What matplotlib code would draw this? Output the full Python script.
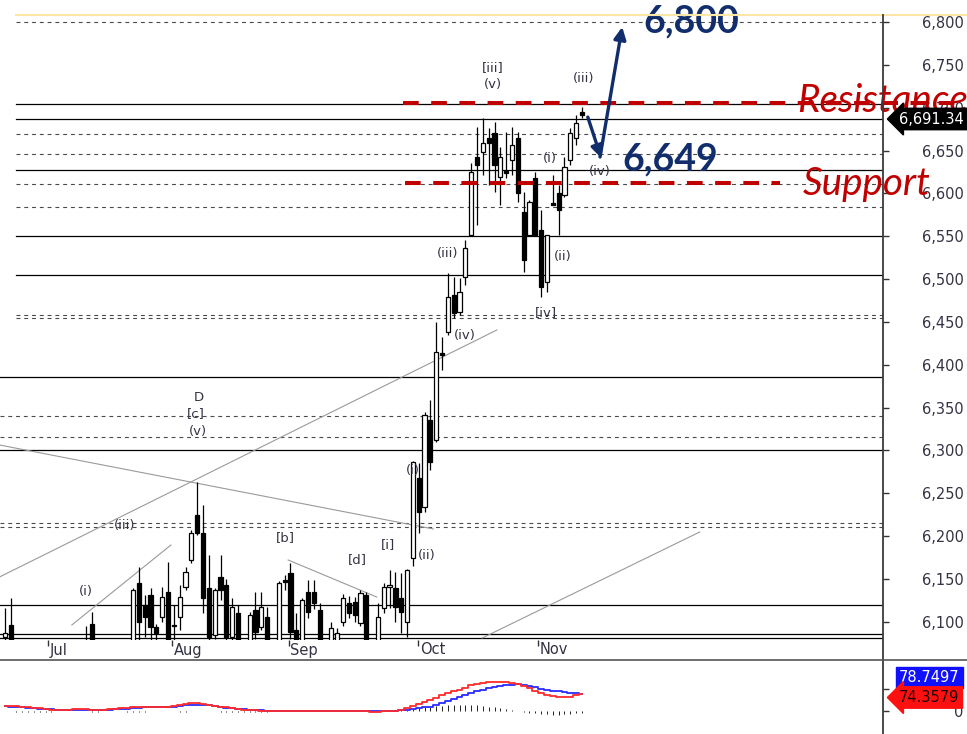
import matplotlib
matplotlib.use("Agg")
import matplotlib.pyplot as plt
from matplotlib.patches import Rectangle
import matplotlib.transforms as mtransforms

plt.rcParams['font.family'] = ['DejaVu Sans']

# ---------------- data (daily OHLC, bar index 0..99) ----------------
opens = [6082, 6096, 6040, 6015, 5995, 6020, 6010, 5985, 5960, 5990,
         5975, 5950, 5980, 6020, 6070, 6097, 6050, 6020, 6000, 6025,
         6040, 6055, 6060, 6145, 6120, 6131, 6094, 6106, 6135, 6096,
         6106, 6141, 6172, 6225, 6204, 6139, 6085, 6152, 6143, 6082,
         6110, 6060, 6060, 6114, 6094, 6106, 6065, 6065, 6149, 6157,
         6090, 6065, 6135, 6135, 6114, 6060, 6060, 6065, 6100, 6122,
         6123, 6099, 6131, 6060, 6065, 6116, 6141, 6140, 6128, 6100,
         6174, 6268, 6234, 6336, 6312, 6414, 6438, 6481, 6462, 6502,
         6551, 6642, 6648, 6665, 6670, 6619, 6626, 6639, 6665, 6578,
         6552, 6618, 6557, 6497, 6589, 6600, 6598, 6639, 6665, 6694.5]
highs = [6116, 6128, 6062, 6040, 6030, 6050, 6035, 6010, 6000, 6020,
         6005, 5990, 6030, 6060, 6095, 6111, 6070, 6045, 6030, 6060,
         6070, 6072, 6140, 6164, 6131, 6139, 6098, 6141, 6170, 6120,
         6143, 6164, 6207, 6263, 6236, 6178, 6140, 6178, 6150, 6128,
         6120, 6074, 6112, 6135, 6135, 6117, 6075, 6148, 6155, 6169,
         6110, 6128, 6149, 6149, 6122, 6073, 6100, 6093, 6132, 6130,
         6129, 6137, 6135, 6074, 6122, 6145, 6160, 6158, 6157, 6162,
         6288, 6285, 6345, 6359, 6450, 6432, 6507, 6502, 6501, 6546,
         6635, 6677, 6688, 6676, 6683, 6654, 6672, 6677, 6672, 6602,
         6592, 6625, 6581, 6552, 6621, 6610, 6642, 6676, 6691, 6701]
lows = [6060, 6030, 6005, 5985, 5970, 6000, 5975, 5950, 5945, 5965,
        5940, 5930, 5970, 6005, 6030, 6040, 6010, 5990, 5980, 6010,
        6020, 6030, 6050, 6070, 6082, 6075, 6070, 6100, 6050, 6070,
        6090, 6137, 6169, 6201, 6110, 6070, 6080, 6125, 6075, 6078,
        6050, 6030, 6050, 6080, 6090, 6050, 6040, 6055, 6137, 6080,
        6045, 6055, 6105, 6115, 6050, 6035, 6050, 6055, 6095, 6105,
        6100, 6095, 6050, 6040, 6055, 6110, 6116, 6100, 6087, 6082,
        6165, 6204, 6228, 6277, 6310, 6394, 6435, 6455, 6458, 6493,
        6550, 6563, 6621, 6610, 6602, 6586, 6618, 6621, 6590, 6508,
        6551, 6550, 6479, 6485, 6586, 6552, 6596, 6633, 6657, 6688]
closes = [6087, 6040, 6015, 5995, 6020, 6010, 5985, 5960, 5990, 5975,
          5950, 5980, 6020, 6040, 6045, 6050, 6020, 6000, 6025, 6040,
          6055, 6065, 6137, 6100, 6106, 6094, 6087, 6129, 6065, 6095,
          6129, 6158, 6204, 6204, 6128, 6082, 6137, 6137, 6082, 6117,
          6065, 6045, 6108, 6088, 6117, 6065, 6060, 6145, 6146, 6088,
          6060, 6125, 6111, 6122, 6065, 6050, 6093, 6087, 6128, 6110,
          6108, 6134, 6065, 6065, 6106, 6141, 6143, 6117, 6111, 6160,
          6286, 6228, 6341, 6287, 6415, 6411, 6479, 6460, 6485, 6536,
          6625, 6633, 6659, 6659, 6633, 6642, 6624, 6656, 6600, 6522,
          6590, 6552, 6491, 6552, 6587, 6581, 6631, 6670, 6682, 6691.34]

# oscillator panel (two lines + histogram)
osc_red = [24, 24, 22, 20, 18, 15, 12, 8, 5, 4,
           4, 6, 9, 9, 8, 6, 5, 5, 7, 10,
           13, 14, 16, 18, 19, 19, 19, 19, 20, 22,
           26, 32, 37, 35, 30, 25, 23, 20, 16, 12,
           9, 6, 4, 3, 2, 1, 0, 0, 0, 0,
           0, 0, 0, 0, 0, 0, -1, -1, -1, -1,
           -1, -2, -2, -3, -3, -2, 0, 2, 4, 12,
           22, 32, 41, 50, 60, 70, 80, 88, 96, 104,
           115, 122, 127, 131, 132, 132, 130, 126, 120, 112,
           104, 92, 80, 72, 66, 64, 63, 65, 70, 74.3579]
osc_blue = [22, 20, 18, 16, 14, 12, 10, 8, 7, 6,
            5, 5, 5, 5, 5, 5, 5, 5, 6, 7,
            9, 11, 13, 15, 16, 17, 18, 18, 19, 20,
            22, 25, 27, 28, 27, 25, 22, 19, 15, 12,
            9, 7, 5, 4, 3, 2, 1, 0, 0, 0,
            0, 0, 0, 0, 0, 0, 0, 0, 0, 0,
            0, 0, 0, 0, 0, 0, 0, 1, 3, 5,
            8, 12, 16, 20, 28, 37, 46, 55, 64, 72,
            80, 88, 95, 102, 108, 113, 117, 119, 120, 119,
            114, 107, 101, 96, 91, 88, 85, 82, 80, 78.7497]
osc_hist = [0, -2, -4, -5, -6, -6, -5, -4, -3, -2,
            0, 0, 0, 0, -2, -3, -3, -2, 0, 0,
            -2, -3, -3, -3, -3, -2, -2, -2, 0, -2,
            -3, -3, -2, 0, 0, 0, -2, -4, -5, -6,
            -6, -5, -5, -4, -4, -3, -2, 0, 0, 0,
            0, 0, 0, 0, 0, 0, 0, 0, 0, 0,
            0, 0, -2, -2, -2, -1, 0, 2, 4, 6,
            9, 13, 16, 19, 22, 24, 26, 27, 27, 27,
            26, 25, 23, 20, 16, 12, 8, 4, 0, -5,
            -8, -11, -13, -15, -16, -16, -15, -13, -11, -9]

month_labels = ["Jul", "Aug", "Sep", "Oct", "Nov"]
month_pos = [7.4, 28.7, 48.7, 70.9, 91.5]
price_ticks = list(range(6100, 6801, 50))
price_tick_labels = [f"{p:,}" for p in price_ticks]
last_price_label = "6,691.34"
osc_labels = ["78.7497", "74.3579"]

# horizontal chart levels
level_prices = [6800, 6704.3, 6686.8, 6669.3, 6646, 6627.3, 6611, 6584, 6550.3,
                6504.8, 6458.1, 6454.6, 6385.7, 6340.2, 6315.7, 6300.6,
                6215.4, 6210.7, 6119.7, 6085.9, 6081.2]
level_dashed = [True, False, False, True, True, False, True, True, False,
                False, True, True, False, True, True, False,
                True, True, False, False, False]
level_start = [1.9] * 12 + [-0.9] * 9

resistance_level = 6705.5
support_level = 6612.7
resistance_span = (68.3, 163.8)
support_span = (68.6, 133.0)

trendlines = [((-0.9, 6152.4), (84.4, 6440.6)),
              ((-0.9, 6306.4), (73.5, 6208.4)),
              ((11.5, 6096.4), (28.5, 6189.7)),
              ((48.6, 6172.2), (63.8, 6129.0)),
              ((81.9, 6081.2), (119.2, 6204.9))]

wave_labels = [("(i)", 13.9, 6136.0), ("(iii)", 20.5, 6213.0), ("D", 33.2, 6362.4),
               ("[c]", 32.8, 6342.6), ("(v)", 33.2, 6321.6), ("[b]", 48.2, 6197.9),
               ("[d]", 60.4, 6172.2), ("[i]", 65.7, 6189.7), ("(ii)", 72.3, 6176.9),
               ("(i)", 70.0, 6277.2), ("(iii)", 76.0, 6530.4), ("(iv)", 78.9, 6433.6),
               ("[iii]", 83.7, 6746.3), ("(v)", 83.7, 6726.5), ("(iii)", 99.2, 6733.5),
               ("(i)", 93.5, 6641.3), ("(iv)", 102.1, 6625.0), ("(ii)", 95.7, 6526.9),
               ("[iv]", 92.8, 6460.4)]

arrow_path = [((100.0, 6689.0), (102.3, 6641.3)),
              ((102.1, 6642.5), (105.9, 6794.2))]
target_texts = [("6,800", 109.5, 6787.2), ("6,649", 105.9, 6627.3)]
level_texts = [("Resistance", 135.9, 6695.0), ("Support", 136.9, 6598.1)]

# ---------------- layout ----------------
W, H = 967, 734
fig = plt.figure(figsize=(W / 100, H / 100), dpi=100)
fig.patch.set_facecolor("white")

def fy(py):
    return 1 - py / H

ax = fig.add_axes([0, fy(640), 883 / W, (640 - 14) / H])
axi = fig.add_axes([0, fy(734), 883 / W, (734 - 660) / H])

bar_px = 5.83
x_first = 4.8
xlim = (-x_first / bar_px, (883 - x_first) / bar_px)
ax.set_xlim(*xlim)
axi.set_xlim(*xlim)
px_per_pt = 1 / 1.1669
ax.set_ylim(6800 - (640 - 22) / px_per_pt, 6800 + (22 - 14) / px_per_pt)
osc_unit = 4.5
axi.set_ylim(-(734 - 711) * osc_unit, (711 - 660) * osc_unit)

for a in (ax, axi):
    for s in a.spines.values():
        s.set_visible(False)
    a.set_facecolor("white")

text_col = "#333344"

# levels
for p, d, s in zip(level_prices, level_dashed, level_start):
    if d:
        ax.plot([s, xlim[1]], [p, p], color="#4a4a4a", lw=0.8,
                ls=(0, (3.5, 3.5)), zorder=1)
    else:
        ax.plot([s, xlim[1]], [p, p], color="black", lw=0.9, zorder=1)

# trendlines
for (a0, b0), (a1, b1) in trendlines:
    ax.plot([a0, a1], [b0, b1], color="#9a9a9a", lw=0.8, zorder=2)

# candles
bw = 0.72
n = len(closes)
ax.vlines(range(n), lows, highs, color="black", lw=0.9, zorder=3)
for i in range(n):
    o, c = opens[i], closes[i]
    up = c >= o
    bottom = min(o, c)
    height = max(abs(c - o), 0.8)
    ax.add_patch(Rectangle((i - bw / 2, bottom), bw, height,
                           facecolor="white" if up else "black",
                           edgecolor="black", lw=0.9, zorder=4))

# red support / resistance
ax.plot(list(resistance_span), [resistance_level] * 2, color="#c00000", lw=2.9,
        ls=(0, (3.9, 3.1)), zorder=6, clip_on=False, dash_capstyle="butt")
ax.plot(list(support_span), [support_level] * 2, color="#c00000", lw=2.9,
        ls=(0, (3.9, 3.1)), zorder=6, clip_on=False, dash_capstyle="butt")

# wave labels
for t, xi, p in wave_labels:
    ax.text(xi, p, t, fontsize=9.5, color=text_col, ha="center", va="center",
            zorder=7)

# arrows
navy = "#112d6b"
for (x0, y0), (x1, y1) in arrow_path:
    ax.annotate("", xy=(x1, y1), xytext=(x0, y0),
                arrowprops=dict(arrowstyle="-|>", color=navy, lw=2.4,
                                mutation_scale=18, shrinkA=0, shrinkB=0),
                zorder=8)

for t, xi, p in target_texts:
    ax.text(xi, p, t, fontsize=27, fontweight="bold", family=["Lato", "DejaVu Sans"],
            color=navy, ha="left", va="baseline", zorder=9, clip_on=False)

for t, xi, p in level_texts:
    ax.text(xi, p, t, fontsize=27.8, style="italic", family=["Lato", "DejaVu Sans"],
            color="#c00000", ha="left", va="baseline", zorder=9, clip_on=False)

# price axis on the right
ax.yaxis.set_ticks_position("right")
ax.set_yticks(price_ticks)
ax.set_yticklabels(price_tick_labels, ha="right")
ax.tick_params(axis="y", direction="out", length=4, width=1, color="#333333",
               labelcolor=text_col, labelsize=10.5, pad=54)

# month ticks
ax.set_xticks(month_pos)
ax.set_xticklabels([])
ax.tick_params(axis="x", direction="out", length=4.5, width=1, color="#333333")
blend = mtransforms.blended_transform_factory(ax.transData, ax.transAxes)
for lab, mp in zip(month_labels, month_pos):
    ax.text(mp + 0.3, -(650 - 640) / (640 - 14), lab, transform=blend,
            fontsize=10.5, color=text_col, ha="left", va="center", clip_on=False)

# oscillator panel
xs = list(range(n))
axi.vlines(xs, 0, osc_hist, color="#222222", lw=0.7, zorder=2)
axi.plot(xs, osc_blue, color="#2b2bff", lw=1.3, drawstyle="steps-mid", zorder=3)
axi.plot(xs, osc_red, color="#ff2b2b", lw=1.3, drawstyle="steps-mid", zorder=4)
axi.set_xticks([])
axi.yaxis.set_ticks_position("right")
axi.set_yticks([0, 100])
axi.set_yticklabels(["0", ""], ha="right")
axi.tick_params(axis="y", direction="out", length=4, width=1, color="#333333",
                labelcolor=text_col, labelsize=10.5, pad=54)

# frame lines (figure level)
fig.add_artist(plt.Line2D([16 / W, 1], [fy(15), fy(15)], color="#fce7a6", lw=1.5))
fig.add_artist(plt.Line2D([883 / W, 883 / W], [fy(15), 0], color="#3a3a3a", lw=1.3))
fig.add_artist(plt.Line2D([0, 1], [fy(660), fy(660)], color="#555555", lw=1.2))

# value tags
fig.text(899 / W, fy(119), last_price_label, color="white", fontsize=10.5,
         ha="left", va="center",
         bbox=dict(boxstyle="larrow,pad=0.22", fc="black", ec="black"))
fig.text(899 / W, fy(677.5), osc_labels[0], color="white", fontsize=10.5,
         ha="left", va="center",
         bbox=dict(boxstyle="square,pad=0.22", fc="#1010ff", ec="#1010ff"))
fig.text(899 / W, fy(697.5), osc_labels[1], color="#220000", fontsize=10.5,
         ha="left", va="center",
         bbox=dict(boxstyle="larrow,pad=0.22", fc="#ff1010", ec="#ff1010"))

fig.savefig("out.png", dpi=100, facecolor="white")
